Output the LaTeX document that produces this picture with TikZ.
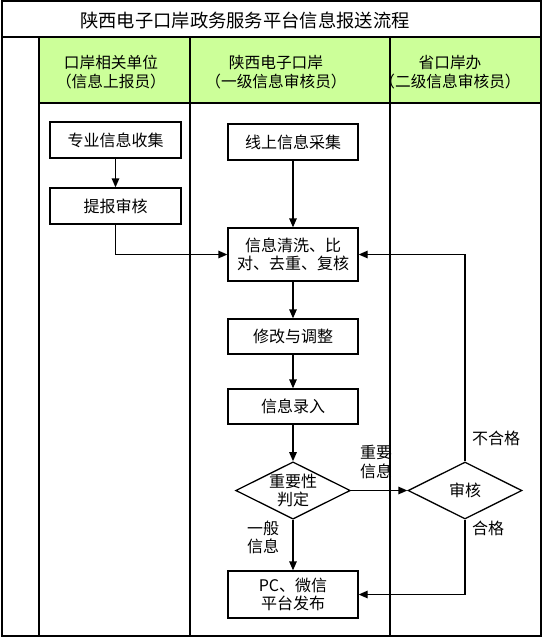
\documentclass[tikz,border=0pt]{standalone}
\usepackage{fontspec}
\setmainfont{Noto Sans CJK SC}
\usetikzlibrary{arrows.meta,shapes.geometric}
\definecolor{hdrgreen}{RGB}{204,255,153}
\begin{document}
\begin{tikzpicture}[x=1pt,y=-1pt,
  lane/.style={line width=1.5pt},
  proc/.style={draw, line width=1.3pt, minimum width=130pt, minimum height=36pt, inner sep=0pt, font=\fontsize{16}{18.5}\selectfont, align=center},
  dec/.style={draw, diamond, line width=1.3pt, minimum width=114pt, minimum height=57pt, inner sep=0pt, aspect=2, font=\fontsize{16}{18.5}\selectfont, align=center},
  flow/.style={line width=1.3pt, -{Triangle[length=9pt,width=7.5pt]}},
  lbl/.style={font=\fontsize{16}{18.5}\selectfont, align=left, inner sep=0pt},
  hdr/.style={font=\fontsize{15.7}{19}\selectfont, align=center, inner sep=0pt}]
\useasboundingbox (0,0) rectangle (543,638);
% frame and lanes
\fill[hdrgreen] (39,37) rectangle (541,103);
\draw[lane] (2,1) rectangle (541,636);
\draw[lane] (2,37) -- (541,37);
\draw[lane] (39,103) -- (541,103);
\draw[lane] (39,37) -- (39,636);
\draw[lane] (190,37) -- (190,636);
\draw[lane] (390,37) -- (390,636);
% title and headers
\node[font=\fontsize{18.3}{22}\selectfont, inner sep=0pt] (title) at (245,20) {陕西电子口岸政务服务平台信息报送流程};
\node[hdr] (h1) at (111,72.5) {口岸相关单位\\（信息上报员）};
\node[hdr] (h2) at (276,72.5) {陕西电子口岸\\（一级信息审核员）};
\node[hdr] (h3) at (450,72.5) {省口岸办\\（二级信息审核员）};
% nodes
\node[proc, minimum width=131pt] (n1) at (115.5,140) {专业信息收集};
\node[proc, minimum width=131pt] (n2) at (115.5,206) {提报审核};
\node[proc] (n3) at (293,142) {线上信息采集};
\node[proc, minimum height=53pt] (n4) at (293,254.5) {信息清洗、比\\对、去重、复核};
\node[proc, minimum height=35pt] (n5) at (293,336.5) {修改与调整};
\node[proc, minimum height=35pt] (n6) at (293,406.5) {信息录入};
\node[dec] (d1) at (293,490.5) {重要性\\判定};
\node[dec] (d2) at (465,490.5) {审核};
\node[proc, minimum height=47pt] (n7) at (293,594.5) {PC、微信\\平台发布};
% connectors
\draw[flow] (n1) -- (n2);
\draw[flow] (n2.south) |- (n4.west);
\draw[flow] (n3) -- (n4);
\draw[flow] (n4) -- (n5);
\draw[flow] (n5) -- (n6);
\draw[flow] (n6) -- (d1);
\draw[flow] (d1) -- (n7);
\draw[flow] (d1.east) -- (d2.west);
\draw[flow] (d2.north) |- (n4.east);
\draw[flow] (d2.south) |- (n7.east);
% labels
\node[lbl, anchor=west] (l1) at (472,438) {不合格};
\node[lbl, anchor=west] (l2) at (472,528) {合格};
\node[lbl, anchor=west] (l3) at (360,462) {重要\\信息};
\node[lbl, anchor=west] (l4) at (247,537.5) {一般\\信息};
\end{tikzpicture}
\end{document}
